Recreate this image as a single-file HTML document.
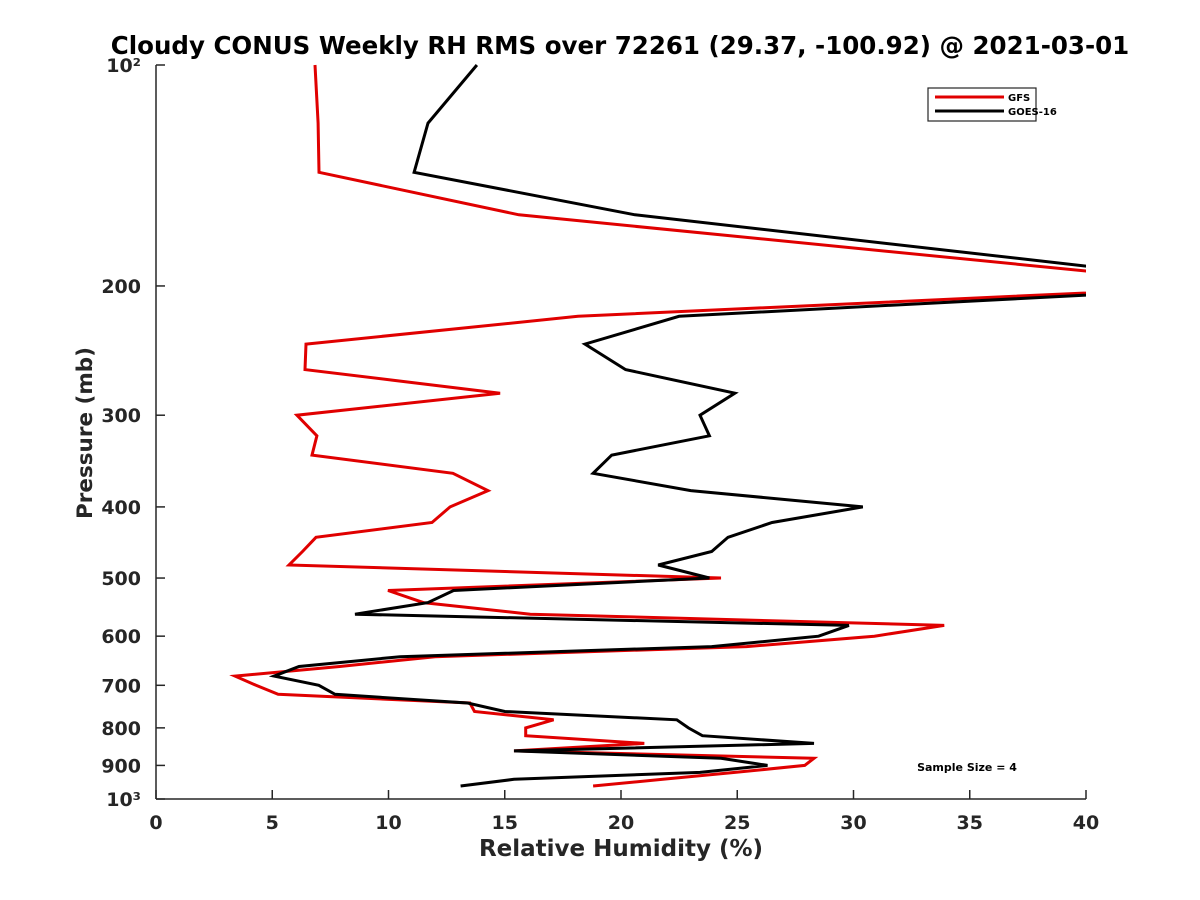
<!DOCTYPE html>
<html><head><meta charset="utf-8"><style>
html,body{margin:0;padding:0;background:#fff;}
svg{display:block;font-family:"DejaVu Sans","Liberation Sans",sans-serif;}
</style></head><body>
<svg id="chart" width="1200" height="900" viewBox="0 0 1200 900">
<rect width="1200" height="900" fill="#fff"/>
<text x="620" y="54" text-anchor="middle" font-size="24.5" font-weight="bold" fill="#000">Cloudy CONUS Weekly RH RMS over 72261 (29.37, -100.92) @ 2021-03-01</text>
<defs><clipPath id="plotclip"><rect x="156" y="60" width="930" height="740"/></clipPath></defs>
<g id="series" clip-path="url(#plotclip)"></g>
<g id="axes"></g>
<text transform="translate(92,433) rotate(-90)" text-anchor="middle" font-size="21.5" font-weight="bold" fill="#262626">Pressure (mb)</text>
<text x="621" y="856" text-anchor="middle" font-size="23" font-weight="bold" fill="#262626">Relative Humidity (%)</text>
<g>
<rect x="928" y="88" width="108" height="33" fill="#fff" stroke="#262626" stroke-width="1.2"/>
<line x1="935" y1="97" x2="1004" y2="97" stroke="#e00000" stroke-width="3"/>
<text x="1008" y="101" font-size="10" font-weight="bold" fill="#000">GFS</text>
<line x1="935" y1="111" x2="1004" y2="111" stroke="#000" stroke-width="3"/>
<text x="1008" y="115" font-size="10" font-weight="bold" fill="#000">GOES-16</text>
</g>
<text x="967" y="771" text-anchor="middle" font-size="11" font-weight="bold" fill="#000">Sample Size = 4</text>
</svg>
<script>
const pressureLevels = [100,120,140,160,200,220,240,260,280,300,320,340,360,380,400,420,440,460,480,500,520,540,560,580,600,620,640,660,680,700,720,740,760,780,800,820,840,860,880,900,920,940,960];
const gfsRms = [6.84,6.97,7.01,15.61,46.5,18.15,6.45,6.41,14.8,6.06,6.92,6.71,12.77,14.28,12.65,11.87,6.88,6.3,5.72,24.3,9.98,11.5,16.1,33.9,30.9,25.4,12.0,7.9,3.4,4.3,5.25,13.5,13.7,17.1,15.9,15.9,21.0,15.4,28.3,27.9,24.9,21.8,18.8];
const goesRms = [13.8,11.7,11.1,20.6,47.5,22.5,18.45,20.2,24.9,23.4,23.8,19.6,18.8,23.0,30.4,26.5,24.6,23.9,21.6,23.8,12.8,11.7,8.56,29.8,28.5,23.9,10.5,6.15,5.08,7.0,7.7,13.4,15.0,22.4,22.9,23.5,28.3,15.4,24.3,26.3,23.4,15.4,13.1];
const xTicks = [0,5,10,15,20,25,30,35,40];
const yTicks = [100,200,300,400,500,600,700,800,900,1000];
const yTickLabels = ["10²","200","300","400","500","600","700","800","900","10³"];

const NS = "http://www.w3.org/2000/svg";
const X0=156,X1=1086,Y0=65,Y1=799;
function xScale(v){return X0+(v-0)/(40-0)*(X1-X0);}
function yScale(p){return Y0+(Math.log10(p)-2)/(3-2)*(Y1-Y0);}
function mk(tag,attrs,parent){const e=document.createElementNS(NS,tag);for(const k in attrs)e.setAttribute(k,attrs[k]);parent.appendChild(e);return e;}

const sg=document.getElementById('series');
function drawLine(vals,color,name){
  const d=vals.map((v,i)=>(i?'L':'M')+xScale(v).toFixed(1)+','+yScale(pressureLevels[i]).toFixed(1)).join(' ');
  const p=mk('path',{d:d,fill:'none',stroke:color,'stroke-width':3,'stroke-linejoin':'miter'},sg);
  
  
}
drawLine(gfsRms,'#e00000','gfs-line');
drawLine(goesRms,'#000000','goes16-line');

const ag=document.getElementById('axes');
const xa=mk('line',{x1:X0,y1:Y1,x2:X1,y2:Y1,stroke:'#262626','stroke-width':1.5},ag);


const ya=mk('line',{x1:X0,y1:Y0,x2:X0,y2:Y1,stroke:'#262626','stroke-width':1.5},ag);


xTicks.forEach(v=>{
  const x=xScale(v);
  const t=mk('line',{x1:x,y1:Y1,x2:x,y2:Y1-9,stroke:'#262626','stroke-width':1.5},ag);
  
  
  const l=mk('text',{x:x,y:829,'text-anchor':'middle','font-size':19,'font-weight':'bold',fill:'#262626'},ag);
  l.textContent=String(v);
  
  
});
yTicks.forEach((p,i)=>{
  const y=yScale(p);
  const t=mk('line',{x1:X0,y1:y,x2:X0+9,y2:y,stroke:'#262626','stroke-width':1.5},ag);
  
  
  const l=mk('text',{x:141,y:y+7,'text-anchor':'end','font-size':19,'font-weight':'bold',fill:'#262626'},ag);
  l.textContent=yTickLabels[i];
  
  
});
</script>
</body></html>
